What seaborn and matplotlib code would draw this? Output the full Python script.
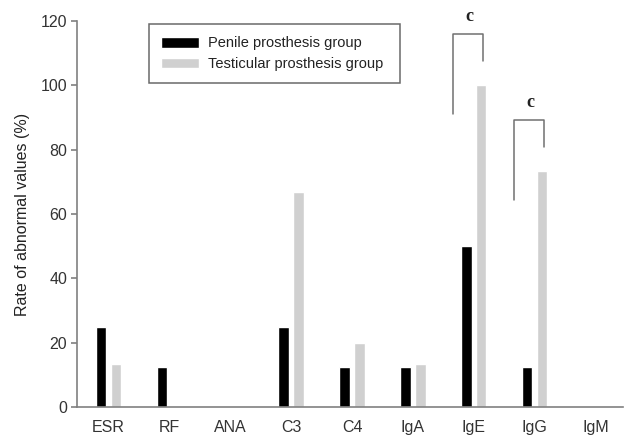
import numpy as np
import pandas as pd
import matplotlib
matplotlib.use("Agg")
import matplotlib.pyplot as plt
import seaborn as sns

# values (%)
categories = ["ESR", "RF", "ANA", "C3", "C4", "IgA", "IgE", "IgG", "IgM"]
penile = [25.0, 12.5, 0.0, 25.0, 12.5, 12.5, 50.0, 12.5, 0.0]
testicular = [13.3, 0.0, 0.0, 66.7, 20.0, 13.3, 100.0, 73.3, 0.0]
groups = ["Penile prosthesis group", "Testicular prosthesis group"]
# significance brackets: (category, label)
sig_marks = [("IgE", "c"), ("IgG", "c")]

df = pd.DataFrame({
    "test": categories * 2,
    "rate": penile + testicular,
    "group": [groups[0]] * len(categories) + [groups[1]] * len(categories),
})

sns.set_style("white")
plt.rcParams["font.family"] = ["Liberation Sans", "DejaVu Sans"]

fig = plt.figure(figsize=(6.24, 4.37), dpi=100)
ax = fig.add_axes([0.1234, 0.0686, 0.875, 0.8834])

sns.barplot(data=df, x="test", y="rate", hue="group", order=categories,
            hue_order=groups, palette=["#000000", "#d0d0d0"],
            width=0.49, gap=0.3, saturation=1, ax=ax)

ax.set_ylim(0, 120)
ax.set_xlim(-0.516, 8.45)
ax.set_yticks(np.arange(0, 121, 20))
ax.set_xlabel("")
ax.set_ylabel("Rate of abnormal values (%)", fontsize=11.5, color="#222222",
              labelpad=8)

for side in ["top", "right"]:
    ax.spines[side].set_visible(False)
for side in ["left", "bottom"]:
    ax.spines[side].set_color("#808080")
    ax.spines[side].set_linewidth(1.2)

ax.tick_params(axis="y", left=True, length=4, width=1.2, color="#808080",
               labelsize=11.5, labelcolor="#333333", pad=3)
ax.tick_params(axis="x", bottom=False, labelsize=11.5, labelcolor="#333333",
               pad=6)

# brackets with significance letters
for cat, lab in sig_marks:
    i = categories.index(cat)
    g = testicular[i]
    top = g + 16
    xl, xr = i - 0.34, i + 0.15
    ax.plot([xl, xl, xr, xr], [top - 25, top, top, g + 7.5],
            color="#707070", lw=1.1, clip_on=False)
    ax.text((xl + xr) / 2 + 0.03, top + 5.5, lab, ha="center", va="center",
            fontsize=13, fontweight="bold", family="Liberation Serif",
            color="#222222", clip_on=False)

leg = ax.legend(loc="upper left", bbox_to_anchor=(0.1316, 0.55, 0.4607, 0.442),
                mode="expand", borderaxespad=0, frameon=True,
                fancybox=False, edgecolor="#444444", fontsize=10.5,
                handlelength=2.6, handleheight=0.75, borderpad=0.85,
                labelspacing=0.45, handletextpad=0.6)
leg.get_frame().set_linewidth(1.1)
for t in leg.get_texts():
    t.set_color("#222222")

fig.savefig("out.png", dpi=100)
